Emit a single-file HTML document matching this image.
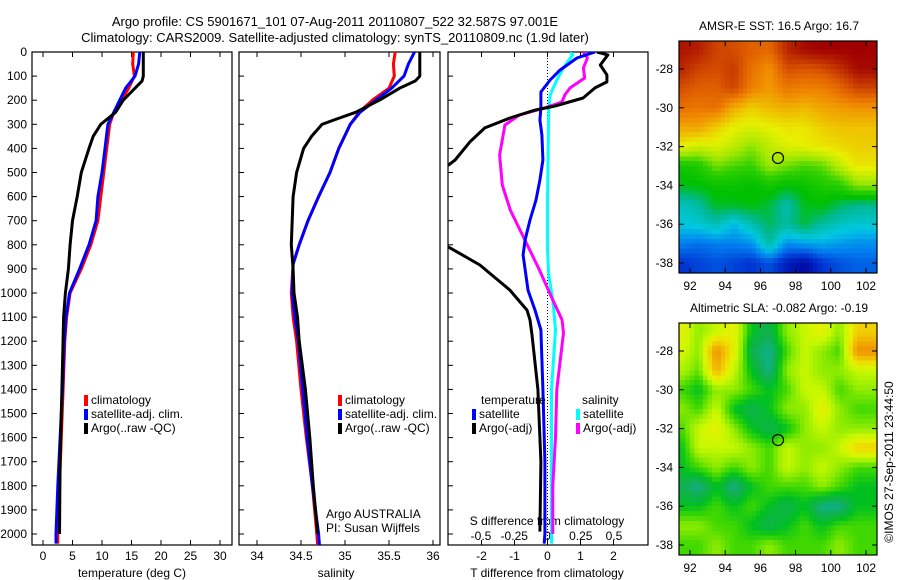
<!DOCTYPE html>
<html><head><meta charset="utf-8"><style>
html,body{margin:0;padding:0;background:#fff;}
svg{display:block;font-family:"Liberation Sans",sans-serif;font-size:12px;}
</style></head><body>
<svg id="fig" width="900" height="580" viewBox="0 0 900 580" xmlns="http://www.w3.org/2000/svg">
<defs>
<clipPath id="c1"><rect x="32" y="52" width="200" height="493"/></clipPath>
<clipPath id="c2"><rect x="239" y="52" width="201" height="493"/></clipPath>
<clipPath id="c3"><rect x="448" y="52" width="200" height="493"/></clipPath>
<clipPath id="cm1"><rect x="679" y="41" width="198" height="232"/></clipPath>
<clipPath id="cm2"><rect x="679" y="323" width="198" height="232"/></clipPath>
</defs>
<text x="335" y="26" text-anchor="middle" font-size="13">Argo profile: CS 5901671_101 07-Aug-2011 20110807_522 32.587S 97.001E</text>
<text x="335" y="42" text-anchor="middle" font-size="13">Climatology: CARS2009. Satellite-adjusted climatology: synTS_20110809.nc (1.9d later)</text>
<g id="root"></g>
<text transform="translate(893,462) rotate(-90)" text-anchor="middle" font-size="12">©IMOS 27-Sep-2011 23:44:50</text>
</svg>
<script>
// ---------- profile data ----------
const climT_d=[0,50,100,150,200,250,300,400,500,600,700,800,900,1000,1100,1200,1400,1600,1800,2000,2040];
const climT_v=[15.3,15.2,15.5,14.5,13.3,12.0,11.3,10.8,10.3,9.8,9.3,8.1,6.5,4.6,4.0,3.7,3.4,3.1,2.8,2.5,2.5];
const satT_v=[16.4,16.2,15.6,14.0,13.0,12.0,11.0,10.5,10.0,9.3,9.0,7.8,6.2,4.5,3.9,3.6,3.3,2.9,2.5,2.2,2.2];
const argoT_d=[0,50,100,120,150,200,250,300,350,400,500,600,700,800,900,1000,1100,1300,1500,1700,2000];
const argoT_v=[17.0,17.0,17.0,16.8,15.6,13.6,12.3,9.8,8.5,7.8,6.5,5.8,5.0,4.6,4.3,3.8,3.5,3.3,3.1,2.9,2.8];
const climS_d=[0,50,100,150,200,250,300,400,500,600,700,800,880,1000,1100,1200,1400,1600,1800,2000,2050];
const climS_v=[35.57,35.55,35.56,35.5,35.31,35.16,35.06,34.93,34.83,34.7,34.58,34.48,34.41,34.39,34.41,34.45,34.5,34.56,34.63,34.68,34.69];
const satS_v=[35.79,35.72,35.67,35.53,35.35,35.17,35.06,34.93,34.83,34.7,34.58,34.48,34.41,34.40,34.43,34.47,34.52,34.57,34.63,34.7,34.71];
const argoS_d=[0,100,120,150,200,250,280,300,350,400,500,600,800,900,1000,1100,1200,1400,1600,1800,2000];
const argoS_v=[35.85,35.85,35.8,35.62,35.39,35.12,34.89,34.74,34.62,34.53,34.45,34.41,34.39,34.41,34.42,34.46,34.48,34.55,34.6,34.64,34.69];
const dTsat_d=[0,25,75,116,166,232,282,344,448,531,614,697,780,842,988,1071,1153,1400,1700,2000,2040];
const dTsat_v=[1.44,0.89,0.38,0.08,-0.2,-0.2,-0.23,-0.17,-0.14,-0.23,-0.35,-0.53,-0.68,-0.74,-0.59,-0.38,-0.2,-0.14,-0.08,-0.08,-0.1];
const dTargo_d=[0,12,54,95,124,149,191,224,241,274,315,373,448,469,500,780,809,884,988,1071,1112,1174,1400,1700,1990];
const dTargo_v=[1.5,1.83,1.6,1.8,1.8,1.44,1.08,0.23,-0.38,-1.14,-1.9,-2.35,-2.8,-3.0,-3.6,-3.6,-3.0,-2.05,-1.14,-0.62,-0.53,-0.47,-0.29,-0.2,-0.23];
const dSsat_d=[0,12,41,66,116,178,241,407,614,822,925,1029,1153,1400,1700,2040];
const dSsat_v=[0.17,0.19,0.15,0.12,0.07,0.02,0.01,0.005,0,0,0.01,0.04,0.06,0.03,0.03,0.03];
const dSargo_d=[0,25,66,108,149,178,207,232,261,303,365,427,552,656,780,905,1029,1112,1166,1400,1600,1800,2000];
const dSargo_v=[0.27,0.3,0.27,0.28,0.17,0.13,0.11,-0.02,-0.21,-0.32,-0.34,-0.36,-0.34,-0.28,-0.17,-0.06,0.04,0.11,0.12,0.07,0.06,0.04,0.04];
const depthTicks=[0,100,200,300,400,500,600,700,800,900,1000,1100,1200,1300,1400,1500,1600,1700,1800,1900,2000];
const tTicks=[0,5,10,15,20,25,30];
const sTicks=[34,34.5,35,35.5,36];
const sTickLabels=["34","34.5","35","35.5","36"];
const dTTicks=[-2,-1,0,1,2];
const dSTicks=[-0.5,-0.25,0,0.25,0.5];
const dSTickLabels=["-0.5","-0.25","0","0.25","0.5"];
// ---------- map data ----------
const mapLats=[-27,-28,-29,-30,-31,-32,-33,-34,-35,-36,-37,-38];
const mapLons=[91.5,92.5,93.5,94.5,95.5,96.5,97.5,98.5,99.5,100.5,101.5,102.5];
const sst=[
[18.8,18.7,18.3,18.2,18.0,17.9,18.6,18.9,19.0,19.0,19.0,19.0],
[18.6,18.3,18.2,18.4,17.8,17.4,18.2,18.1,18.2,18.5,18.9,18.9],
[18.2,18.0,18.0,18.3,17.6,17.3,17.7,17.6,17.6,17.9,18.3,18.3],
[17.8,17.7,17.8,17.1,16.8,17.0,17.1,17.0,17.2,17.3,17.4,17.4],
[17.2,17.2,16.8,16.5,16.4,16.5,16.6,16.6,16.8,16.9,16.9,16.9],
[16.5,16.3,16.4,16.2,15.9,16.2,16.4,16.5,16.6,16.7,16.8,16.8],
[15.2,15.3,15.8,15.6,15.5,16.0,15.8,15.6,15.7,16.2,16.6,16.6],
[14.9,15.0,15.1,15.1,15.0,15.2,15.0,15.1,15.3,15.4,15.9,15.9],
[14.2,14.4,14.9,14.9,15.0,14.8,14.3,14.9,15.0,14.7,14.5,14.5],
[14.0,14.1,14.3,13.9,14.3,14.7,14.4,14.8,14.4,14.2,14.1,14.1],
[13.5,13.4,13.5,13.5,13.6,14.4,13.6,13.7,13.8,13.7,13.6,13.6],
[13.0,13.1,13.2,13.1,13.0,13.2,12.8,12.6,13.0,13.2,13.3,13.3]];
const sla=[
[0.15,0.05,0.1,0.15,-0.05,-0.1,0.05,0.1,0.15,0.05,0.2,0.2],
[0.12,0.05,0.3,0.15,-0.1,-0.15,0.0,0.1,0.05,0.0,0.3,0.3],
[0.08,0.02,0.25,0.1,-0.05,-0.15,0.05,0.1,0.05,0.05,0.1,0.1],
[0.0,-0.05,0.05,0.05,0.0,-0.05,0.0,0.1,0.1,0.0,0.05,0.05],
[0.05,0.0,0.1,-0.05,-0.1,-0.05,0.05,0.05,0.15,0.05,0.0,0.0],
[0.0,0.1,0.15,0.05,-0.05,-0.1,-0.05,0.05,0.1,0.05,0.05,0.05],
[-0.05,0.1,0.1,0.1,0.05,0.0,0.1,0.05,0.05,0.1,0.2,0.2],
[-0.05,0.0,0.05,0.0,0.05,0.0,0.1,0.05,0.1,0.05,0.0,0.0],
[-0.1,-0.15,-0.05,-0.15,-0.05,0.0,0.0,0.0,0.05,0.0,-0.05,-0.05],
[-0.05,-0.05,0.0,-0.05,0.0,-0.05,-0.1,-0.05,-0.15,-0.15,-0.05,-0.05],
[0.05,0.05,0.0,0.0,-0.05,-0.1,-0.05,0.0,-0.05,0.0,0.0,0.0],
[0.0,0.0,0.05,0.0,0.0,0.05,0.0,0.0,0.0,0.05,0.0,0.0]];
const argoLon=97.001, argoLat=-32.587;
const latTicks=[-26,-28,-30,-32,-34,-36,-38];
const lonTicks=[92,94,96,98,100,102];

const NS="http://www.w3.org/2000/svg";
const root=document.getElementById('root');
function mk(tag,attrs,parent){const e=document.createElementNS(NS,tag);for(const k in attrs)e.setAttribute(k,attrs[k]);(parent||root).appendChild(e);return e;}
function lin(d0,d1,r0,r1){return v=>r0+(v-d0)*(r1-r0)/(d1-d0);}
const Y=lin(0,2000,52,534);

function panel(x0,x1,name){
  const g=mk('g',{});
  
  
  const r=mk('rect',{x:x0,y:52,width:x1-x0,height:493,fill:'none',stroke:'#000','stroke-width':1.2},g);
  
  
  depthTicks.forEach(d=>{mk('line',{x1:x0,x2:x0+5,y1:Y(d),y2:Y(d),stroke:'#000'},g);});
  return g;
}
function line(g,ds,vs,X,color,name,clip){
  const pts=ds.map((d,i)=>X(vs[i]).toFixed(1)+','+Y(d).toFixed(1)).join(' ');
  const p=mk('polyline',{points:pts,fill:'none',stroke:color,'stroke-width':3,'stroke-linejoin':'round','clip-path':'url(#'+clip+')'},g);
  
  
}
function xticks(g,ticks,labels,X,ty){
  ticks.forEach((t,i)=>{
    const x=X(t);
    mk('line',{x1:x,x2:x,y1:52,y2:57,stroke:'#000'},g);
    mk('line',{x1:x,x2:x,y1:545,y2:540,stroke:'#000'},g);
    const tx=mk('text',{x:x,y:ty,'text-anchor':'middle'},g);tx.textContent=labels[i];
    
    
  });
}
function legend(g,x,y,items){
  items.forEach((it,i)=>{
    mk('rect',{x:x,y:y+i*14-9,width:4,height:11,fill:it[1]},g);
    const t=mk('text',{x:x+7,y:y+i*14},g);t.textContent=it[0];
    
    
  });
}
function label(g,x,y,txt,name,anchor){
  const t=mk('text',{x:x,y:y,'text-anchor':anchor||'middle'},g);t.textContent=txt;
  
  
}

// Panel 1 temperature
const XT=lin(0,30,43,220);
const g1=panel(32,232,'temperature-panel');
depthTicks.forEach(d=>{label(g1,27,Y(d)+4,String(d),'depth-tick-label','end');});
xticks(g1,tTicks,tTicks.map(String),XT,560);
line(g1,climT_d,climT_v,XT,'#ff0000','climatology-temperature','c1');
line(g1,climT_d,satT_v,XT,'#0000ff','satellite-temperature','c1');
line(g1,argoT_d,argoT_v,XT,'#000000','argo-temperature','c1');
legend(g1,84,404,[['climatology','#f00'],['satellite-adj. clim.','#00f'],['Argo(..raw -QC)','#000']]);
label(g1,132,577,'temperature (deg C)','x-axis-title-temperature');

// Panel 2 salinity
const XS=lin(34,36,257,433);
const g2=panel(239,440,'salinity-panel');
xticks(g2,sTicks,sTickLabels,XS,560);
line(g2,climS_d,climS_v,XS,'#ff0000','climatology-salinity','c2');
line(g2,climS_d,satS_v,XS,'#0000ff','satellite-salinity','c2');
line(g2,argoS_d,argoS_v,XS,'#000000','argo-salinity','c2');
legend(g2,338,404,[['climatology','#f00'],['satellite-adj. clim.','#00f'],['Argo(..raw -QC)','#000']]);
label(g2,326,518,'Argo AUSTRALIA','argo-australia-note','start');
label(g2,326,532,'PI: Susan Wijffels','pi-note','start');
label(g2,336,577,'salinity','x-axis-title-salinity');

// Panel 3 differences
const XD=lin(0,1,547.5,580.5);
const XDS=lin(0,1,547.5,680.5);
const g3=panel(448,648,'difference-panel');
mk('line',{x1:XD(0),x2:XD(0),y1:52,y2:545,stroke:'#000','stroke-dasharray':'1,2'},g3);
xticks(g3,dTTicks,dTTicks.map(String),XD,560);
dSTicks.forEach((t,i)=>{label(g3,XDS(t),540,dSTickLabels[i],'s-diff-tick-label');});
label(g3,547,525,'S difference from climatology','s-diff-axis-title');
line(g3,dSsat_d,dSsat_v,XDS,'#00ffff','salinity-satellite-diff','c3');
line(g3,dSargo_d,dSargo_v,XDS,'#ff00ff','salinity-argo-diff','c3');
line(g3,dTsat_d,dTsat_v,XD,'#0000ff','temperature-satellite-diff','c3');
line(g3,dTargo_d,dTargo_v,XD,'#000000','temperature-argo-diff','c3');
label(g3,481,404,'temperature','legend-temperature-heading','start');
label(g3,582,404,'salinity','legend-salinity-heading','start');
legend(g3,472,418,[['satellite','#00f'],['Argo(-adj)','#000']]);
legend(g3,576,418,[['satellite','#0ff'],['Argo(-adj)','#f0f']]);
label(g3,547,577,'T difference from climatology','x-axis-title-tdiff');

// ---------- maps ----------
function cmap(stops,v){
  let c;
  if(v<=stops[0][0])c=stops[0][1];
  else if(v>=stops[stops.length-1][0])c=stops[stops.length-1][1];
  else{for(let i=1;i<stops.length;i++){if(v<=stops[i][0]){const a=stops[i-1],b=stops[i];const f=(v-a[0])/(b[0]-a[0]);
    c=a[1].map((x,k)=>Math.round(x+(b[1][k]-x)*f));break;}}}
  return 'rgb('+c.join(',')+')';
}
const sstStops=[[12.5,[0,0,150]],[13,[0,50,210]],[13.5,[0,128,240]],[14,[0,200,224]],[14.5,[0,184,144]],[15,[0,192,0]],[15.5,[48,208,0]],[16,[160,232,0]],[16.5,[232,240,0]],[17,[240,184,0]],[17.5,[240,136,0]],[18,[224,96,0]],[18.5,[192,48,0]],[19,[160,0,0]]];
const slaStops=[[-0.15,[16,176,144]],[-0.1,[16,176,80]],[-0.05,[0,192,32]],[0,[64,216,0]],[0.05,[144,236,0]],[0.1,[200,248,0]],[0.15,[232,240,0]],[0.2,[240,208,0]],[0.3,[240,144,0]]];
function sample(grid,lon,lat){
  let fi=(mapLats[0]-lat), fj=(lon-mapLons[0]);
  fi=Math.max(0,Math.min(grid.length-1,fi)); fj=Math.max(0,Math.min(grid[0].length-1,fj));
  const i0=Math.min(Math.floor(fi),grid.length-2), j0=Math.min(Math.floor(fj),grid[0].length-2);
  const a=fi-i0, b=fj-j0;
  return grid[i0][j0]*(1-a)*(1-b)+grid[i0][j0+1]*(1-a)*b+grid[i0+1][j0]*a*(1-b)+grid[i0+1][j0+1]*a*b;
}
function map(y0,grid,stops,clip,name,title){
  const x0=679,x1=877,y1=y0+232;
  const LX=lin(92,102,690,866), LY=lin(-28,-38,y0+28,y0+222);
  const g=mk('g',{});
  
  
  const gc=mk('g',{'clip-path':'url(#'+clip+')','shape-rendering':'crispEdges'},g);
  const step=0.25;
  for(let lat=-26.5;lat>-38.75;lat-=step){
    for(let lon=91.25;lon<102.9;lon+=step){
      const v=sample(grid,lon+step/2,lat-step/2);
      const xa=LX(lon),ya=LY(lat);
      const c=mk('rect',{x:xa.toFixed(1),y:ya.toFixed(1),width:(LX(lon+step)-xa+0.5).toFixed(1),height:(LY(lat-step)-ya+0.5).toFixed(1),fill:cmap(stops,v)},gc);
      
      
    }
  }
  mk('rect',{x:x0,y:y0,width:x1-x0,height:232,fill:'none',stroke:'#000','stroke-width':1.2},g);
  latTicks.forEach(t=>{const y=LY(t);if(y<y0+3||y>y1-3)return;
    mk('line',{x1:x0,x2:x0+5,y1:y,y2:y,stroke:'#000'},g);mk('line',{x1:x1,x2:x1-5,y1:y,y2:y,stroke:'#000'},g);
    label(g,x0-6,y+4,String(t),'lat-tick-label','end');});
  lonTicks.forEach(t=>{const x=LX(t);
    mk('line',{x1:x,x2:x,y1:y0,y2:y0+5,stroke:'#000'},g);mk('line',{x1:x,x2:x,y1:y1,y2:y1-5,stroke:'#000'},g);
    label(g,x,y1+17,String(t),'lon-tick-label');});
  const c=mk('circle',{cx:LX(argoLon),cy:LY(argoLat),r:5.5,fill:'none',stroke:'#000','stroke-width':1.2},g);
  
  
  label(g,779,y0-11,title,name+'-title');
}
map(41,sst,sstStops,'cm1','sst-map','AMSR-E SST: 16.5 Argo: 16.7');
map(323,sla,slaStops,'cm2','sla-map','Altimetric SLA: -0.082 Argo: -0.19');
</script>
</body></html>
